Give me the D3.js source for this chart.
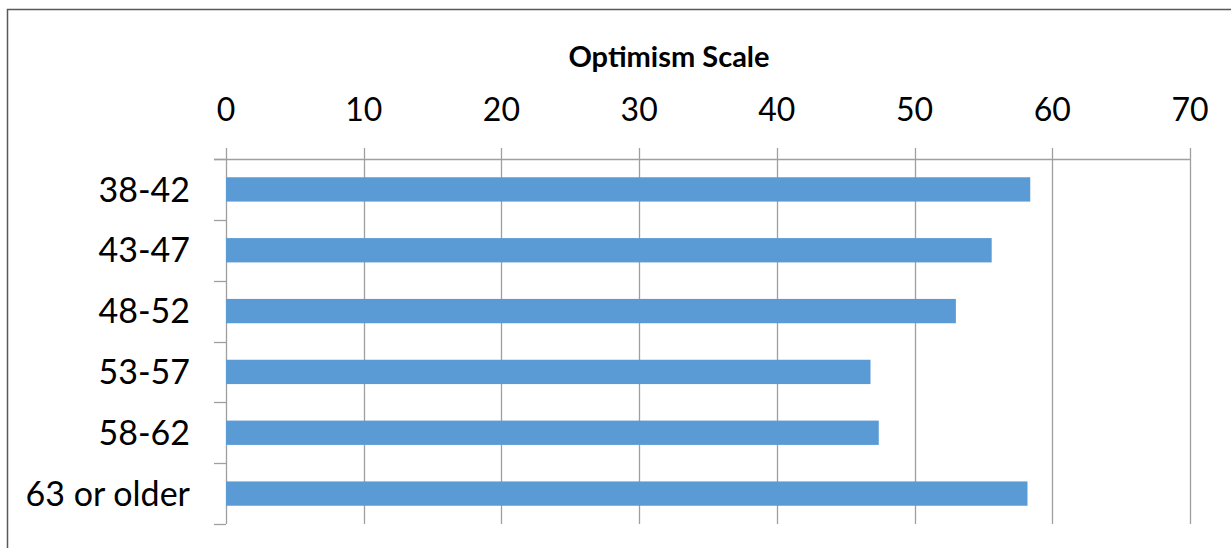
<!DOCTYPE html>
<html>
<head>
<meta charset="utf-8">
<script src="https://cdn.jsdelivr.net/npm/d3@7"></script>
<style>
  body { margin: 0; background: #fff; }
  svg { display: block; font-family: Lato, "Open Sans", sans-serif; }
</style>
</head>
<body>
<div id="chart"></div>
<script>
// Data
var categories = ["38-42", "43-47", "48-52", "53-57", "58-62", "63 or older"];
var values = [58.4, 55.6, 53.0, 46.8, 47.4, 58.2];
var xTicks = [0, 10, 20, 30, 40, 50, 60, 70];
var title = "Optimism Scale";

var width = 1231, height = 548;
var margin = {top: 159, right: 41, bottom: 24, left: 226};

var svg = d3.select("#chart")
  .append("svg")
  .attr("width", width)
  .attr("height", height);

//Outer frame (right and bottom edges fall off the picture)
svg.append("path")
  .attr("d", "M7.5,560 V9.5 H1240")
  .style("fill", "none")
  .style("stroke", "#595959")
  .style("stroke-width", 1.5);

var x = d3.scaleLinear()
  .domain([0, 70])
  .range([margin.left, width - margin.right]);

var y = d3.scaleBand()
  .domain(categories)
  .range([margin.top, height - margin.bottom])
  .paddingInner(0.6)
  .paddingOuter(0.3);

var yEdges = d3.scaleLinear()
  .domain([0, categories.length])
  .range([margin.top, height - margin.bottom]);

var gridColor = "#9f9f9f";

//Vertical gridlines, poking above the axis as tick marks
svg.append("g")
  .selectAll("line")
  .data(xTicks)
  .join("line")
  .attr("x1", d => Math.round(x(d)) + 0.5)
  .attr("x2", d => Math.round(x(d)) + 0.5)
  .attr("y1", margin.top - 11)
  .attr("y2", height - margin.bottom)
  .style("stroke", gridColor)
  .style("stroke-width", 1.3);

//Top axis line
svg.append("line")
  .attr("x1", margin.left - 12)
  .attr("x2", x(70))
  .attr("y1", margin.top + 0.5)
  .attr("y2", margin.top + 0.5)
  .style("stroke", gridColor)
  .style("stroke-width", 1.3);

//Category ticks on the left
svg.append("g")
  .selectAll("line")
  .data(d3.range(categories.length + 1))
  .join("line")
  .attr("x1", margin.left - 12)
  .attr("x2", margin.left)
  .attr("y1", d => Math.round(yEdges(d)) + 0.5)
  .attr("y2", d => Math.round(yEdges(d)) + 0.5)
  .style("stroke", gridColor)
  .style("stroke-width", 1.3);

//Bars
svg.append("g")
  .selectAll("rect")
  .data(values)
  .join("rect")
  .attr("x", x(0))
  .attr("y", (d, i) => y(categories[i]))
  .attr("width", d => x(d) - x(0))
  .attr("height", y.bandwidth())
  .style("fill", "#5b9bd5");

//Tick labels on top
svg.append("g")
  .selectAll("text")
  .data(xTicks)
  .join("text")
  .attr("x", d => x(d))
  .attr("y", 121)
  .attr("text-anchor", "middle")
  .style("font-size", "32px")
  .style("fill", "#000")
  .text(d => d);

//Category labels
svg.append("g")
  .selectAll("text")
  .data(categories)
  .join("text")
  .attr("x", 190)
  .attr("y", d => y(d) + y.bandwidth() / 2)
  .attr("dy", "0.36em")
  .attr("text-anchor", "end")
  .style("font-size", "34px")
  .style("fill", "#000")
  .text(d => d);

//Axis title
svg.append("text")
  .attr("x", 669)
  .attr("y", 67)
  .attr("text-anchor", "middle")
  .style("font-size", "29px")
  .style("font-weight", "bold")
  .style("fill", "#000")
  .text(title);
</script>
</body>
</html>
